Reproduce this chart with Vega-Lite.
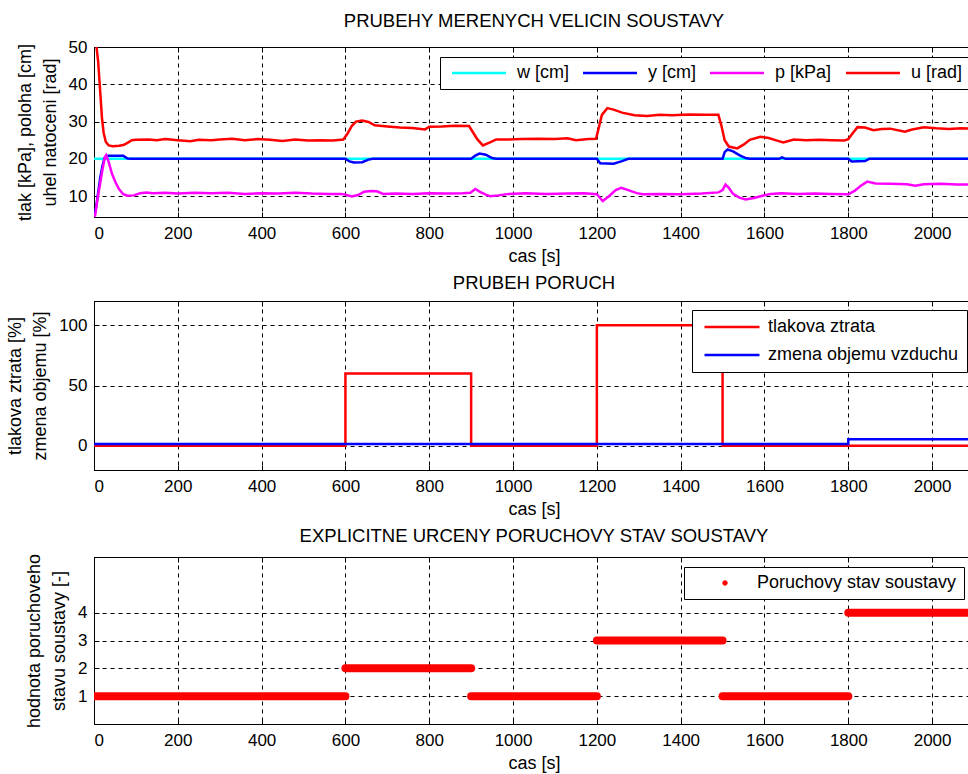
{
"$schema": "https://vega.github.io/schema/vega-lite/v6.json",
"background": "white",
"padding": {"left": 6, "top": 11, "right": 0, "bottom": 0},
"spacing": 7,
"resolve": {"scale": {"x": "independent", "y": "independent", "color": "independent"}, "legend": {"color": "independent"}},
"config": {
 "font": "Liberation Sans",
 "view": {"stroke": "black", "strokeWidth": 1},
 "title": {"fontSize": 18.5, "fontWeight": "normal", "color": "black", "font": "Liberation Sans", "offset": 8},
 "axis": {"labelFontSize": 17, "labelColor": "black", "labelFont": "Liberation Sans", "titleFont": "Liberation Sans", "titleFontSize": 18, "titleFontWeight": "normal", "titleColor": "black", "grid": true, "gridColor": "black", "gridDash": [4,4], "gridOpacity": 1, "gridWidth": 1, "domainColor": "black", "tickColor": "black", "tickSize": -5},
 "axisY": {"titlePadding": 9, "titleLineHeight": 25, "labelPadding": 12},
 "axisX": {"titlePadding": 6, "labelPadding": 13, "format": "d"},
 "legend": {"labelFontSize": 18, "labelColor": "black", "labelFont": "Liberation Sans", "strokeColor": "black", "fillColor": "white", "labelLimit": 400, "title": null}
},
"datasets": {
 "w": [{"t":0,"v":20},{"t":2100,"v":20}],
 "y": [{"t":0,"v":4.5},{"t":5,"v":7},{"t":10,"v":11},{"t":15,"v":15},{"t":20,"v":18},{"t":25,"v":20.2},{"t":30,"v":20.8},{"t":70,"v":20.8},{"t":80,"v":20.1},{"t":90,"v":20},{"t":600,"v":20},{"t":610,"v":19.3},{"t":620,"v":19.0},{"t":640,"v":19.1},{"t":655,"v":19.8},{"t":665,"v":20},{"t":900,"v":20},{"t":910,"v":20.9},{"t":920,"v":21.4},{"t":935,"v":21.1},{"t":950,"v":20.2},{"t":960,"v":20},{"t":1200,"v":20},{"t":1208,"v":18.8},{"t":1240,"v":18.7},{"t":1260,"v":19.4},{"t":1275,"v":20},{"t":1500,"v":20},{"t":1505,"v":21.8},{"t":1512,"v":22.5},{"t":1525,"v":22.0},{"t":1540,"v":21.0},{"t":1555,"v":20.2},{"t":1565,"v":20},{"t":1635,"v":20},{"t":1642,"v":20.4},{"t":1650,"v":20},{"t":1800,"v":20},{"t":1808,"v":19.3},{"t":1840,"v":19.4},{"t":1850,"v":20},{"t":2100,"v":20}],
 "p": [{"t":0,"v":4.4},{"t":3,"v":5},{"t":8,"v":9},{"t":14,"v":13},{"t":20,"v":17},{"t":26,"v":20.5},{"t":29,"v":21},{"t":34,"v":19.5},{"t":43,"v":16},{"t":52,"v":13.5},{"t":60,"v":11.8},{"t":70,"v":10.5},{"t":80,"v":10.1},{"t":95,"v":10.2},{"t":110,"v":10.8},{"t":125,"v":11.0},{"t":140,"v":10.8},{"t":170,"v":10.9},{"t":200,"v":10.7},{"t":240,"v":10.9},{"t":280,"v":10.8},{"t":320,"v":10.9},{"t":360,"v":10.6},{"t":400,"v":10.8},{"t":440,"v":10.7},{"t":480,"v":10.9},{"t":520,"v":10.7},{"t":560,"v":10.6},{"t":590,"v":10.6},{"t":600,"v":10.4},{"t":615,"v":9.9},{"t":630,"v":10.3},{"t":645,"v":11.2},{"t":660,"v":11.4},{"t":675,"v":11.3},{"t":690,"v":10.6},{"t":720,"v":10.7},{"t":760,"v":10.6},{"t":800,"v":10.8},{"t":840,"v":10.7},{"t":880,"v":10.8},{"t":898,"v":10.9},{"t":910,"v":11.9},{"t":920,"v":11.2},{"t":935,"v":10.4},{"t":945,"v":10.0},{"t":965,"v":10.2},{"t":990,"v":10.6},{"t":1030,"v":10.8},{"t":1080,"v":10.6},{"t":1130,"v":10.7},{"t":1170,"v":10.8},{"t":1200,"v":10.5},{"t":1214,"v":8.7},{"t":1228,"v":9.9},{"t":1245,"v":11.6},{"t":1258,"v":12.2},{"t":1275,"v":11.6},{"t":1295,"v":10.8},{"t":1310,"v":10.5},{"t":1350,"v":10.6},{"t":1400,"v":10.5},{"t":1450,"v":10.7},{"t":1490,"v":11.0},{"t":1500,"v":11.6},{"t":1507,"v":13.1},{"t":1515,"v":12.2},{"t":1525,"v":10.6},{"t":1540,"v":9.6},{"t":1555,"v":9.1},{"t":1575,"v":9.5},{"t":1595,"v":10.1},{"t":1615,"v":10.6},{"t":1640,"v":10.8},{"t":1680,"v":10.6},{"t":1720,"v":10.7},{"t":1760,"v":10.6},{"t":1800,"v":10.5},{"t":1815,"v":11.4},{"t":1830,"v":12.8},{"t":1845,"v":13.9},{"t":1865,"v":13.4},{"t":1900,"v":13.3},{"t":1940,"v":13.2},{"t":1960,"v":12.8},{"t":1980,"v":13.2},{"t":2020,"v":13.3},{"t":2060,"v":13.1},{"t":2100,"v":13.1}],
 "u": [{"t":0,"v":60},{"t":6,"v":50},{"t":10,"v":46},{"t":13,"v":41},{"t":16,"v":36},{"t":19,"v":31},{"t":23,"v":27},{"t":28,"v":24.6},{"t":35,"v":23.6},{"t":45,"v":23.4},{"t":60,"v":23.5},{"t":70,"v":23.7},{"t":80,"v":24.3},{"t":90,"v":25.0},{"t":100,"v":25.1},{"t":130,"v":25.2},{"t":150,"v":25.0},{"t":170,"v":25.3},{"t":200,"v":25.0},{"t":230,"v":24.7},{"t":250,"v":25.1},{"t":280,"v":25.0},{"t":300,"v":25.2},{"t":330,"v":25.4},{"t":360,"v":25.0},{"t":390,"v":25.3},{"t":420,"v":25.1},{"t":450,"v":24.8},{"t":480,"v":25.2},{"t":510,"v":24.9},{"t":540,"v":25.0},{"t":570,"v":24.9},{"t":595,"v":25.2},{"t":605,"v":26.8},{"t":615,"v":28.8},{"t":625,"v":30.0},{"t":640,"v":30.3},{"t":655,"v":29.9},{"t":670,"v":29.0},{"t":700,"v":28.7},{"t":730,"v":28.4},{"t":760,"v":28.3},{"t":790,"v":27.9},{"t":800,"v":28.6},{"t":830,"v":28.7},{"t":860,"v":28.9},{"t":895,"v":28.8},{"t":905,"v":27.0},{"t":915,"v":25.2},{"t":928,"v":23.6},{"t":945,"v":24.4},{"t":960,"v":25.2},{"t":990,"v":25.2},{"t":1020,"v":25.3},{"t":1060,"v":25.4},{"t":1100,"v":25.3},{"t":1130,"v":25.5},{"t":1150,"v":25.0},{"t":1180,"v":25.3},{"t":1198,"v":25.4},{"t":1205,"v":28.5},{"t":1212,"v":31.8},{"t":1225,"v":33.6},{"t":1240,"v":33.2},{"t":1260,"v":32.4},{"t":1290,"v":31.7},{"t":1320,"v":31.5},{"t":1350,"v":31.8},{"t":1380,"v":31.7},{"t":1420,"v":31.9},{"t":1460,"v":31.8},{"t":1490,"v":31.8},{"t":1497,"v":29},{"t":1505,"v":25.0},{"t":1515,"v":23.3},{"t":1535,"v":22.8},{"t":1550,"v":23.8},{"t":1565,"v":25.1},{"t":1590,"v":25.9},{"t":1610,"v":25.6},{"t":1630,"v":24.9},{"t":1645,"v":24.4},{"t":1670,"v":25.2},{"t":1700,"v":25.0},{"t":1730,"v":25.1},{"t":1760,"v":25.0},{"t":1790,"v":24.9},{"t":1800,"v":25.3},{"t":1810,"v":26.8},{"t":1822,"v":28.5},{"t":1840,"v":28.4},{"t":1860,"v":27.7},{"t":1880,"v":28.0},{"t":1900,"v":28.1},{"t":1935,"v":27.3},{"t":1950,"v":27.8},{"t":1980,"v":28.5},{"t":2010,"v":28.2},{"t":2040,"v":28.0},{"t":2070,"v":28.2},{"t":2100,"v":28.1}],
 "ztrata": [{"t":0,"v":0},{"t":600,"v":60},{"t":900,"v":0},{"t":1200,"v":100},{"t":1500,"v":0},{"t":2100,"v":0}],
 "objem": [{"t":0,"v":1.5},{"t":1800,"v":5.5},{"t":2100,"v":5.5}],
 "stav": [{"t":0,"s":1,"seg":"a"},{"t":600,"s":1,"seg":"a"},{"t":600,"s":2,"seg":"b"},{"t":900,"s":2,"seg":"b"},{"t":900,"s":1,"seg":"c"},{"t":1200,"s":1,"seg":"c"},{"t":1200,"s":3,"seg":"d"},{"t":1500,"s":3,"seg":"d"},{"t":1500,"s":1,"seg":"e"},{"t":1800,"s":1,"seg":"e"},{"t":1800,"s":4,"seg":"f"},{"t":2100,"s":4,"seg":"f"}]
},
"vconcat": [
 {
  "width": 880, "height": 170,
  "title": "PRUBEHY MERENYCH VELICIN SOUSTAVY",
  "resolve": {"axis": {"x": "independent"}},
  "layer": [
   {"data": {"name": "w"}, "mark": {"type": "line", "strokeWidth": 2.5, "clip": true},
    "encoding": {
     "x": {"field": "t", "type": "quantitative", "scale": {"domain": [0, 2100], "nice": false}, "axis": {"values": [0,200,400,600,800,1000,1200,1400,1600,1800,2000], "title": "cas [s]"}},
     "y": {"field": "v", "type": "quantitative", "scale": {"domain": [4.4, 50], "nice": false}, "axis": {"values": [10,20,30,40,50], "title": ["tlak [kPa], poloha [cm]", "uhel natoceni [rad]"]}},
     "color": {"datum": "w [cm]", "type": "nominal", "scale": {"domain": ["w [cm]", "y [cm]", "p [kPa]", "u [rad]"], "range": ["#00ffff", "#0000ff", "#ff00ff", "#ff0000"]},
      "legend": {"orient": "none", "legendX": 346, "legendY": 10, "direction": "horizontal", "symbolType": "M-5,0H5", "symbolSize": 116.6, "symbolStrokeWidth": 2.5, "symbolOffset": 23, "labelOffset": 29, "columnPadding": 9, "padding": 7}}}},
   {"data": {"name": "y"}, "mark": {"type": "line", "strokeWidth": 2.5, "clip": true},
    "encoding": {"x": {"field": "t", "type": "quantitative", "scale": {"domain": [0, 2100], "nice": false}, "axis": null}, "y": {"field": "v", "type": "quantitative", "scale": {"domain": [4.4, 50], "nice": false}}, "color": {"datum": "y [cm]", "type": "nominal"}}},
   {"data": {"name": "p"}, "mark": {"type": "line", "strokeWidth": 2.5, "clip": true},
    "encoding": {"x": {"field": "t", "type": "quantitative", "scale": {"domain": [0, 2100], "nice": false}, "axis": null}, "y": {"field": "v", "type": "quantitative", "scale": {"domain": [4.4, 50], "nice": false}}, "color": {"datum": "p [kPa]", "type": "nominal"}}},
   {"data": {"name": "u"}, "mark": {"type": "line", "strokeWidth": 2.5, "clip": true},
    "encoding": {"x": {"field": "t", "type": "quantitative", "scale": {"domain": [0, 2100], "nice": false}, "axis": null}, "y": {"field": "v", "type": "quantitative", "scale": {"domain": [4.4, 50], "nice": false}}, "color": {"datum": "u [rad]", "type": "nominal"}}},
   {"data": {"name": "w"}, "mark": {"type": "line", "opacity": 0},
    "encoding": {"x": {"field": "t", "type": "quantitative", "scale": {"domain": [0, 2100], "nice": false}, "axis": {"orient": "top", "labels": false, "grid": false, "domain": false, "title": null, "values": [0,200,400,600,800,1000,1200,1400,1600,1800,2000]}}, "y": {"field": "v", "type": "quantitative", "scale": {"domain": [4.4, 50], "nice": false}}}}
  ]
 },
 {
  "width": 880, "height": 169,
  "title": "PRUBEH PORUCH",
  "resolve": {"axis": {"x": "independent"}},
  "layer": [
   {"data": {"name": "ztrata"}, "mark": {"type": "line", "strokeWidth": 2.5, "interpolate": "step-after", "clip": true},
    "encoding": {
     "x": {"field": "t", "type": "quantitative", "scale": {"domain": [0, 2100], "nice": false}, "axis": {"values": [0,200,400,600,800,1000,1200,1400,1600,1800,2000], "title": "cas [s]"}},
     "y": {"field": "v", "type": "quantitative", "scale": {"domain": [-20, 120], "nice": false}, "axis": {"values": [0,50,100], "title": ["tlakova ztrata [%]", "zmena objemu [%]"]}},
     "color": {"datum": "tlakova ztrata", "type": "nominal", "scale": {"domain": ["tlakova ztrata", "zmena objemu vzduchu"], "range": ["#ff0000", "#0000ff"]},
      "legend": {"orient": "none", "legendX": 598, "legendY": 9, "direction": "vertical", "symbolType": "M-5,0H5", "symbolSize": 121, "symbolStrokeWidth": 2.5, "symbolOffset": 23, "labelOffset": 27, "rowPadding": 10, "padding": 8}}}},
   {"data": {"name": "objem"}, "mark": {"type": "line", "strokeWidth": 2.5, "interpolate": "step-after", "clip": true},
    "encoding": {"x": {"field": "t", "type": "quantitative", "scale": {"domain": [0, 2100], "nice": false}, "axis": null}, "y": {"field": "v", "type": "quantitative", "scale": {"domain": [-20, 120], "nice": false}}, "color": {"datum": "zmena objemu vzduchu", "type": "nominal"}}},
   {"data": {"name": "objem"}, "mark": {"type": "line", "opacity": 0},
    "encoding": {"x": {"field": "t", "type": "quantitative", "scale": {"domain": [0, 2100], "nice": false}, "axis": {"orient": "top", "labels": false, "grid": false, "domain": false, "title": null, "values": [0,200,400,600,800,1000,1200,1400,1600,1800,2000]}}, "y": {"field": "v", "type": "quantitative", "scale": {"domain": [-20, 120], "nice": false}}}}
  ]
 },
 {
  "width": 880, "height": 167,
  "title": "EXPLICITNE URCENY PORUCHOVY STAV SOUSTAVY",
  "resolve": {"axis": {"x": "independent"}},
  "layer": [
   {"data": {"name": "stav"}, "mark": {"type": "line", "strokeWidth": 8, "strokeCap": "round", "clip": true},
    "encoding": {
     "x": {"field": "t", "type": "quantitative", "scale": {"domain": [0, 2100], "nice": false}, "axis": {"values": [0,200,400,600,800,1000,1200,1400,1600,1800,2000], "title": "cas [s]"}},
     "y": {"field": "s", "type": "quantitative", "scale": {"domain": [0, 6], "nice": false}, "axis": {"values": [1,2,3,4], "title": ["hodnota poruchoveho", "stavu soustavy [-]"]}},
     "detail": {"field": "seg", "type": "nominal"},
     "color": {"datum": "Poruchovy stav soustavy", "type": "nominal", "scale": {"domain": ["Poruchovy stav soustavy"], "range": ["#ff0000"]},
      "legend": {"orient": "none", "legendX": 590, "legendY": 10, "symbolType": "circle", "symbolSize": 20, "symbolStrokeWidth": 1, "symbolOffset": 25, "labelOffset": 23, "padding": 7,
       "encode": {"symbols": {"update": {"fill": {"value": "#ff0000"}, "stroke": {"value": "#ff0000"}}}}}}}},
   {"data": {"name": "stav"}, "mark": {"type": "line", "opacity": 0},
    "encoding": {"x": {"field": "t", "type": "quantitative", "scale": {"domain": [0, 2100], "nice": false}, "axis": {"orient": "top", "labels": false, "grid": false, "domain": false, "title": null, "values": [0,200,400,600,800,1000,1200,1400,1600,1800,2000]}}, "y": {"field": "s", "type": "quantitative", "scale": {"domain": [0, 6], "nice": false}}, "detail": {"field": "seg", "type": "nominal"}}}
  ]
 }
]
}
